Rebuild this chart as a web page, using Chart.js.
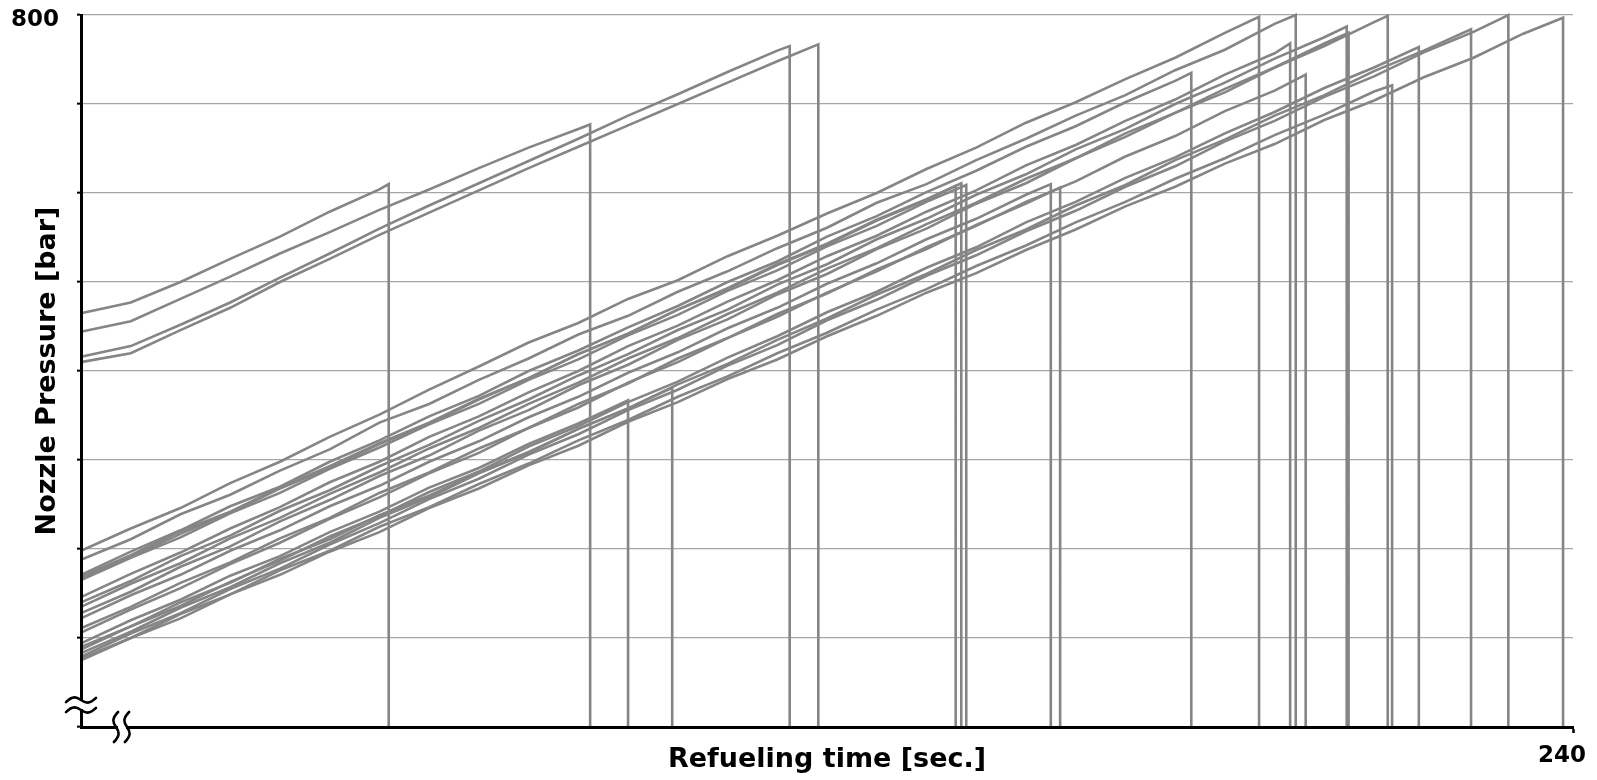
<!DOCTYPE html>
<html>
<head>
<meta charset="utf-8">
<script src="https://cdn.jsdelivr.net/npm/chart.js@4.4.1/dist/chart.umd.min.js"></script>
<style>
  html, body { margin: 0; padding: 0; background: #ffffff; }
  #wrap { width: 1597px; height: 780px; }
</style>
</head>
<body>
<div id="wrap"><canvas id="c" width="1597" height="780"></canvas></div>
<script>
// ---- DATA ----
// common sampling instants of the typed pressure values [sec.]
const sampleTimes = [0, 8, 16, 24, 32, 40, 48, 56, 64, 72, 80, 88, 96, 104, 112, 120, 128, 136, 144, 152, 160, 168, 176, 184, 192, 200, 208, 216, 224, 232];

// end of each refueling run [sec.] and nozzle pressure reached just before the stop [bar]
const stopTimes     = [49.5, 81.9, 114.0, 118.6, 189.5, 195.4, 178.6, 140.7, 141.6, 142.4, 194.5, 203.6, 203.9, 210.2, 156.0, 157.5, 197.0, 88.0, 95.1, 215.2, 223.6, 229.6, 210.9, 238.4];
const stopPressures = [610, 677, 765, 767, 798, 800, 735, 608, 611, 609, 768, 787, 780, 799, 610, 606, 733, 367, 381, 764, 784, 800, 721, 797];

// nozzle pressure of each run at the sampling instants [bar]
const run01 = [465, 477, 500, 526, 551, 579, 604];
const run02 = [444, 456, 481, 506, 532, 556, 581, 604, 628, 651, 672];
const run03 = [416, 428, 452, 477, 505, 532, 560, 586, 611, 636, 661, 687, 711, 736, 760];
const run04 = [410, 420, 446, 471, 500, 526, 553, 578, 603, 628, 652, 676, 700, 724, 748];
const run05 = [198, 223, 246, 274, 298, 326, 351, 379, 405, 432, 454, 481, 502, 529, 552, 577, 600, 627, 651, 679, 702, 728, 752, 780];
const run06 = [188, 211, 239, 261, 288, 312, 342, 363, 390, 414, 441, 462, 489, 512, 538, 561, 589, 610, 637, 661, 687, 710, 738, 761, 790];
const run07 = [171, 197, 221, 248, 270, 298, 322, 349, 372, 400, 423, 449, 473, 500, 523, 551, 574, 601, 625, 652, 675, 702, 726];
const run08 = [169, 193, 220, 242, 269, 293, 319, 342, 369, 392, 419, 442, 469, 492, 519, 542, 569, 592];
const run09 = [167, 191, 217, 241, 268, 291, 318, 341, 368, 392, 419, 442, 469, 493, 520, 543, 570, 593];
const run10 = [165, 190, 213, 240, 263, 290, 314, 340, 363, 390, 413, 440, 463, 490, 513, 540, 563, 590];
const run11 = [146, 172, 196, 223, 247, 275, 298, 326, 349, 376, 400, 428, 451, 478, 502, 529, 552, 579, 603, 631, 654, 681, 705, 733, 757];
const run12 = [140, 164, 192, 215, 243, 266, 293, 317, 344, 368, 395, 419, 446, 469, 497, 520, 548, 571, 598, 621, 649, 672, 700, 724, 751, 775];
const run13 = [135, 161, 184, 212, 235, 262, 286, 313, 336, 363, 387, 414, 437, 464, 488, 515, 538, 565, 589, 616, 639, 667, 690, 717, 741, 768];
const run14 = [128, 152, 180, 203, 231, 255, 282, 305, 333, 356, 384, 407, 435, 458, 486, 509, 537, 560, 588, 611, 639, 663, 690, 713, 741, 765, 792];
const run15 = [122, 148, 171, 198, 221, 248, 271, 298, 321, 348, 371, 398, 421, 448, 471, 498, 521, 548, 571, 598];
const run16 = [111, 135, 162, 185, 212, 235, 263, 286, 313, 336, 363, 386, 414, 437, 464, 487, 514, 537, 564, 588];
const run17 = [106, 132, 156, 183, 207, 234, 258, 285, 308, 336, 359, 387, 410, 437, 461, 488, 512, 539, 563, 590, 613, 641, 664, 692, 715];
const run18 = [94, 120, 143, 170, 192, 219, 242, 269, 291, 318, 341];
const run19 = [90, 113, 140, 162, 189, 211, 238, 260, 286, 309, 335, 358];
const run20 = [87, 113, 136, 163, 187, 214, 237, 264, 287, 315, 338, 365, 388, 415, 439, 466, 489, 516, 539, 567, 590, 617, 640, 667, 691, 718, 741];
const run21 = [83, 107, 134, 157, 184, 207, 235, 258, 285, 308, 335, 358, 385, 408, 435, 459, 486, 509, 536, 559, 586, 609, 637, 660, 687, 710, 737, 760];
const run22 = [79, 105, 128, 155, 178, 205, 229, 256, 279, 306, 329, 356, 379, 406, 429, 457, 480, 507, 530, 557, 580, 607, 630, 658, 681, 708, 731, 758, 781];
const run23 = [77, 100, 127, 149, 176, 198, 225, 247, 273, 296, 322, 345, 371, 394, 420, 443, 469, 492, 518, 541, 567, 590, 616, 639, 665, 688, 714];
const run24 = [75, 100, 122, 149, 171, 197, 219, 246, 268, 294, 316, 343, 365, 391, 413, 439, 462, 488, 510, 536, 559, 585, 607, 633, 655, 682, 704, 730, 752, 779];

const runs = [run01, run02, run03, run04, run05, run06, run07, run08, run09, run10, run11, run12,
              run13, run14, run15, run16, run17, run18, run19, run20, run21, run22, run23, run24];

// axis ends that carry a label
const yTickLabels = [800];
const xTickLabels = [240];

// ---- CHART ----
const LINE_COLOR = '#858585';
const datasets = runs.map((vals, i) => {
  const pts = vals.map((v, k) => ({ x: sampleTimes[k], y: v }));
  pts.push({ x: stopTimes[i], y: stopPressures[i] });
  pts.push({ x: stopTimes[i], y: 0 });
  return {
    data: pts,
    borderColor: LINE_COLOR,
    borderWidth: 2.6,
    pointRadius: 0,
    tension: 0,
    fill: false,
    clip: 6
  };
});

function tilde(ctx, cx, cy, w, a, vertical) {
  ctx.beginPath();
  const P = (u, v) => vertical ? [cx + v, cy + u] : [cx + u, cy + v];
  let p = P(-w, a * 0.6); ctx.moveTo(p[0], p[1]);
  let c1 = P(-w * 0.55, -a * 1.3), c2 = P(-w * 0.3, -a * 0.9), e = P(0, 0);
  ctx.bezierCurveTo(c1[0], c1[1], c2[0], c2[1], e[0], e[1]);
  c1 = P(w * 0.3, a * 0.9); c2 = P(w * 0.55, a * 1.3); e = P(w, -a * 0.6);
  ctx.bezierCurveTo(c1[0], c1[1], c2[0], c2[1], e[0], e[1]);
  ctx.stroke();
}

const axisBreaks = {
  id: 'axisBreaks',
  afterDraw(chart) {
    const { ctx, chartArea: { left, bottom } } = chart;
    ctx.save();
    ctx.fillStyle = '#ffffff';
    // y-axis break
    ctx.fillRect(left - 4, bottom - 26, 8, 8);
    // x-axis break
    ctx.fillRect(left + 37, bottom - 4, 8, 8);
    ctx.strokeStyle = '#000000';
    ctx.lineWidth = 2.6;
    ctx.lineCap = 'round';
    tilde(ctx, left, bottom - 27, 15, 3.5, false);
    tilde(ctx, left, bottom - 17, 15, 3.5, false);
    tilde(ctx, left + 35, bottom, 15, 3.5, true);
    tilde(ctx, left + 46, bottom, 15, 3.5, true);
    ctx.restore();
  }
};

const tickFont = { family: 'DejaVu Sans', weight: 'bold', size: 23 };

new Chart(document.getElementById('c'), {
  type: 'line',
  data: { datasets },
  plugins: [axisBreaks],
  options: {
    responsive: false,
    animation: false,
    events: [],
    layout: { padding: { top: 15, right: 24, left: 0, bottom: 0 } },
    plugins: { legend: { display: false }, tooltip: { enabled: false } },
    scales: {
      x: {
        type: 'linear',
        min: 0,
        max: 240,
        ticks: {
          stepSize: 240,
          autoSkip: false,
          maxRotation: 0,
          color: '#000',
          font: tickFont,
          padding: 9,
          labelOffset: -11,
          callback: v => xTickLabels.includes(v) ? String(v) : ''
        },
        grid: {
          display: true,
          drawOnChartArea: false,
          drawTicks: true,
          tickLength: 6,
          tickWidth: 2.5,
          tickColor: c => (c.tick && xTickLabels.includes(c.tick.value)) ? '#000' : 'rgba(0,0,0,0)'
        },
        border: { display: true, color: '#000', width: 3, z: 1 },
        title: {
          display: true,
          text: 'Refueling time [sec.]',
          color: '#000',
          font: { family: 'DejaVu Sans', weight: 'bold', size: 27 },
          padding: { top: 0, bottom: 4 }
        },
        afterFit: s => { s.height = 53; s.paddingLeft = 0; s.paddingRight = 0; }
      },
      y: {
        type: 'linear',
        min: 0,
        max: 800,
        ticks: {
          stepSize: 100,
          color: '#000',
          font: tickFont,
          padding: 18,
          labelOffset: 5,
          callback: v => yTickLabels.includes(v) ? String(v) : ''
        },
        grid: {
          color: '#a6a6a6',
          lineWidth: 1.3,
          drawTicks: true,
          tickLength: 4,
          tickColor: '#000',
          tickWidth: 2
        },
        border: { display: true, color: '#000', width: 3, z: 1 },
        title: {
          display: true,
          text: 'Nozzle Pressure [bar]',
          color: '#000',
          font: { family: 'DejaVu Sans', weight: 'bold', size: 27 },
          padding: { top: 32, bottom: 0 }
        },
        afterFit: s => { s.width = 81; s.paddingTop = 0; s.paddingBottom = 0; }
      }
    }
  }
});
</script>
</body>
</html>
